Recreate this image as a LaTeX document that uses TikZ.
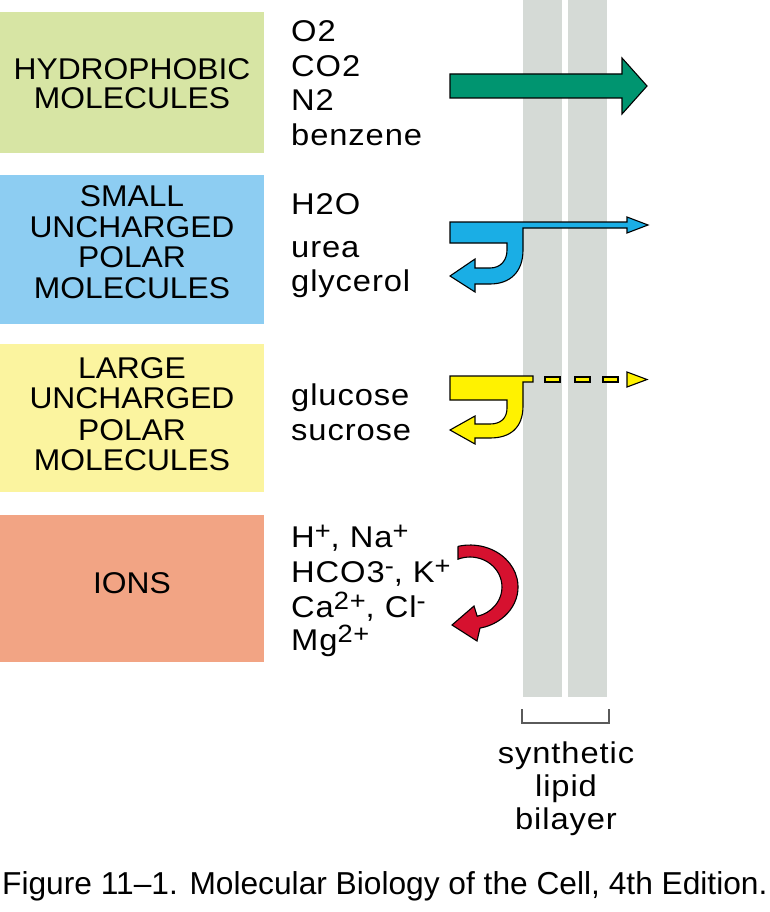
\documentclass[tikz,border=0pt]{standalone}
\usepackage{fontspec}
\setmainfont{Liberation Sans}[FakeStretch=1.06]
\newfontfamily\capfont{Liberation Sans}
\newfontfamily\molfont{Liberation Sans}[FakeStretch=1.09,LetterSpace=3]
\definecolor{boxgreen}{RGB}{215,229,164}
\definecolor{boxblue}{RGB}{141,205,242}
\definecolor{boxyellow}{RGB}{251,244,159}
\definecolor{boxsalmon}{RGB}{242,164,132}
\definecolor{arrgreen}{RGB}{0,149,112}
\definecolor{arrblue}{RGB}{26,174,229}
\definecolor{arryellow}{RGB}{255,242,0}
\definecolor{arrred}{RGB}{214,17,47}
\definecolor{membrane}{RGB}{213,218,214}
\definecolor{brgray}{RGB}{90,90,90}
\newcommand\spx[1]{\raisebox{8pt}{\fontsize{25}{25}\selectfont #1}}
\begin{document}
\begin{tikzpicture}[x=1pt,y=-1pt,
  catbox/.style={inner sep=0pt, anchor=north west, minimum width=264pt},
  lbl/.style={inner sep=0pt, anchor=base, font=\fontsize{30}{34}\selectfont},
  mol/.style={inner sep=0pt, anchor=base west, font=\molfont\fontsize{30}{34}\selectfont},
  mem/.style={inner sep=0pt, anchor=base, font=\molfont\fontsize{30}{34}\selectfont},
  arr/.style={draw=black, line width=1.1pt, line join=miter},
]
\useasboundingbox (0,0) rectangle (769,912);
\fill[white] (0,0) rectangle (769,912);

% category boxes
\node[catbox, fill=boxgreen, minimum height=141pt] (hydbox) at (0,12) {};
\node[catbox, fill=boxblue, minimum height=149pt] (smbox) at (0,175) {};
\node[catbox, fill=boxyellow, minimum height=148pt] (lgbox) at (0,344) {};
\node[catbox, fill=boxsalmon, minimum height=147pt] (ionbox) at (0,515) {};

% box labels
\node[lbl] (h1) at (132,80) {HYDROPHOBIC};
\node[lbl] (h2) at (132,109) {MOLECULES};
\node[lbl] (s1) at (132,207) {SMALL};
\node[lbl] (s2) at (132,237) {UNCHARGED};
\node[lbl] (s3) at (132,267) {POLAR};
\node[lbl] (s4) at (132,298) {MOLECULES};
\node[lbl] (l1) at (132,378) {LARGE};
\node[lbl] (l2) at (132,408) {UNCHARGED};
\node[lbl] (l3) at (132,440) {POLAR};
\node[lbl] (l4) at (132,470) {MOLECULES};
\node[lbl] (i1) at (132,593) {IONS};

% molecule lists
\node[mol] (m1) at (291,42) {O2};
\node[mol] (m2) at (291,77) {CO2};
\node[mol] (m3) at (291,111) {N2};
\node[mol] (m4) at (291,146) {benzene};
\node[mol] (p1) at (291,214) {H2O};
\node[mol] (p2) at (291,257) {urea};
\node[mol] (p3) at (291,291) {glycerol};
\node[mol] (g1) at (291,405) {glucose};
\node[mol] (g2) at (291,440) {sucrose};
\node[mol] (n1) at (291,547) {H\spx{+}, Na\spx{+}};
\node[mol] (n2) at (291,582) {HCO3\spx{-}, K\spx{+}};
\node[mol] (n3) at (291,617) {Ca\spx{2+}, Cl\spx{-}};
\node[mol] (n4) at (291,650) {Mg\spx{2+}};

% membrane
\fill[membrane] (523,0) rectangle (562,697);
\fill[membrane] (568,0) rectangle (607,697);

% green arrow
\draw[arr, fill=arrgreen] (450,74) -- (622,74) -- (622,58) -- (647,86) -- (622,114) -- (622,98) -- (450,98) -- cycle;

% blue arrow
\draw[arr, fill=arrblue] (450,222) -- (627,222) -- (627,217) -- (648,225) -- (627,233) -- (627,228) -- (523,228) -- (523,250)
  .. controls (523,272) and (510,284) .. (490,284) -- (475,284) -- (475,292) -- (450,276) -- (475,259) -- (475,268) -- (490,268)
  .. controls (501,268) and (507,260) .. (507,250) -- (507,243) -- (450,243) -- cycle;

% yellow arrow
\draw[arr, fill=arryellow] (450,376) -- (533,376) -- (533,382) -- (523,382) -- (523,406)
  .. controls (523,428) and (510,438) .. (490,438) -- (475,438) -- (475,444) -- (450,430) -- (475,416) -- (475,424) -- (490,424)
  .. controls (501,424) and (507,418) .. (507,408) -- (507,400) -- (450,400) -- cycle;
\draw[arr, fill=arryellow] (545,377) rectangle (560,382);
\draw[arr, fill=arryellow] (575,377) rectangle (590,382);
\draw[arr, fill=arryellow] (603,377) rectangle (618,382);
\draw[arr, fill=arryellow] (627,372) -- (647,379.5) -- (627,387) -- cycle;

% red arrow
\draw[arr, fill=arrred] (458,546.3) -- (458,559.2) arc[start angle=-112, end angle=77, x radius=32, y radius=30]
  -- (474,606) -- (452,625) -- (477,641) -- (480,628.1) arc[start angle=78, end angle=-104.5, x radius=48, y radius=42] -- cycle;

% bracket
\coordinate (bl) at (522,709);
\coordinate (br) at (609,709);
\draw[brgray, line width=1.5pt] (bl) -- (522,723) -- (609,723) -- (br);
\node[mem] (t1) at (566,763) {synthetic};
\node[mem] (t2) at (566,796) {lipid};
\node[mem] (t3) at (566,829) {bilayer};

% caption
\node[inner sep=0pt, anchor=base west, font=\capfont\fontsize{31.7}{34}\selectfont] (cap) at (2,894) {Figure 11–1. Molecular Biology of the Cell, 4th Edition.};
\end{tikzpicture}
\end{document}
